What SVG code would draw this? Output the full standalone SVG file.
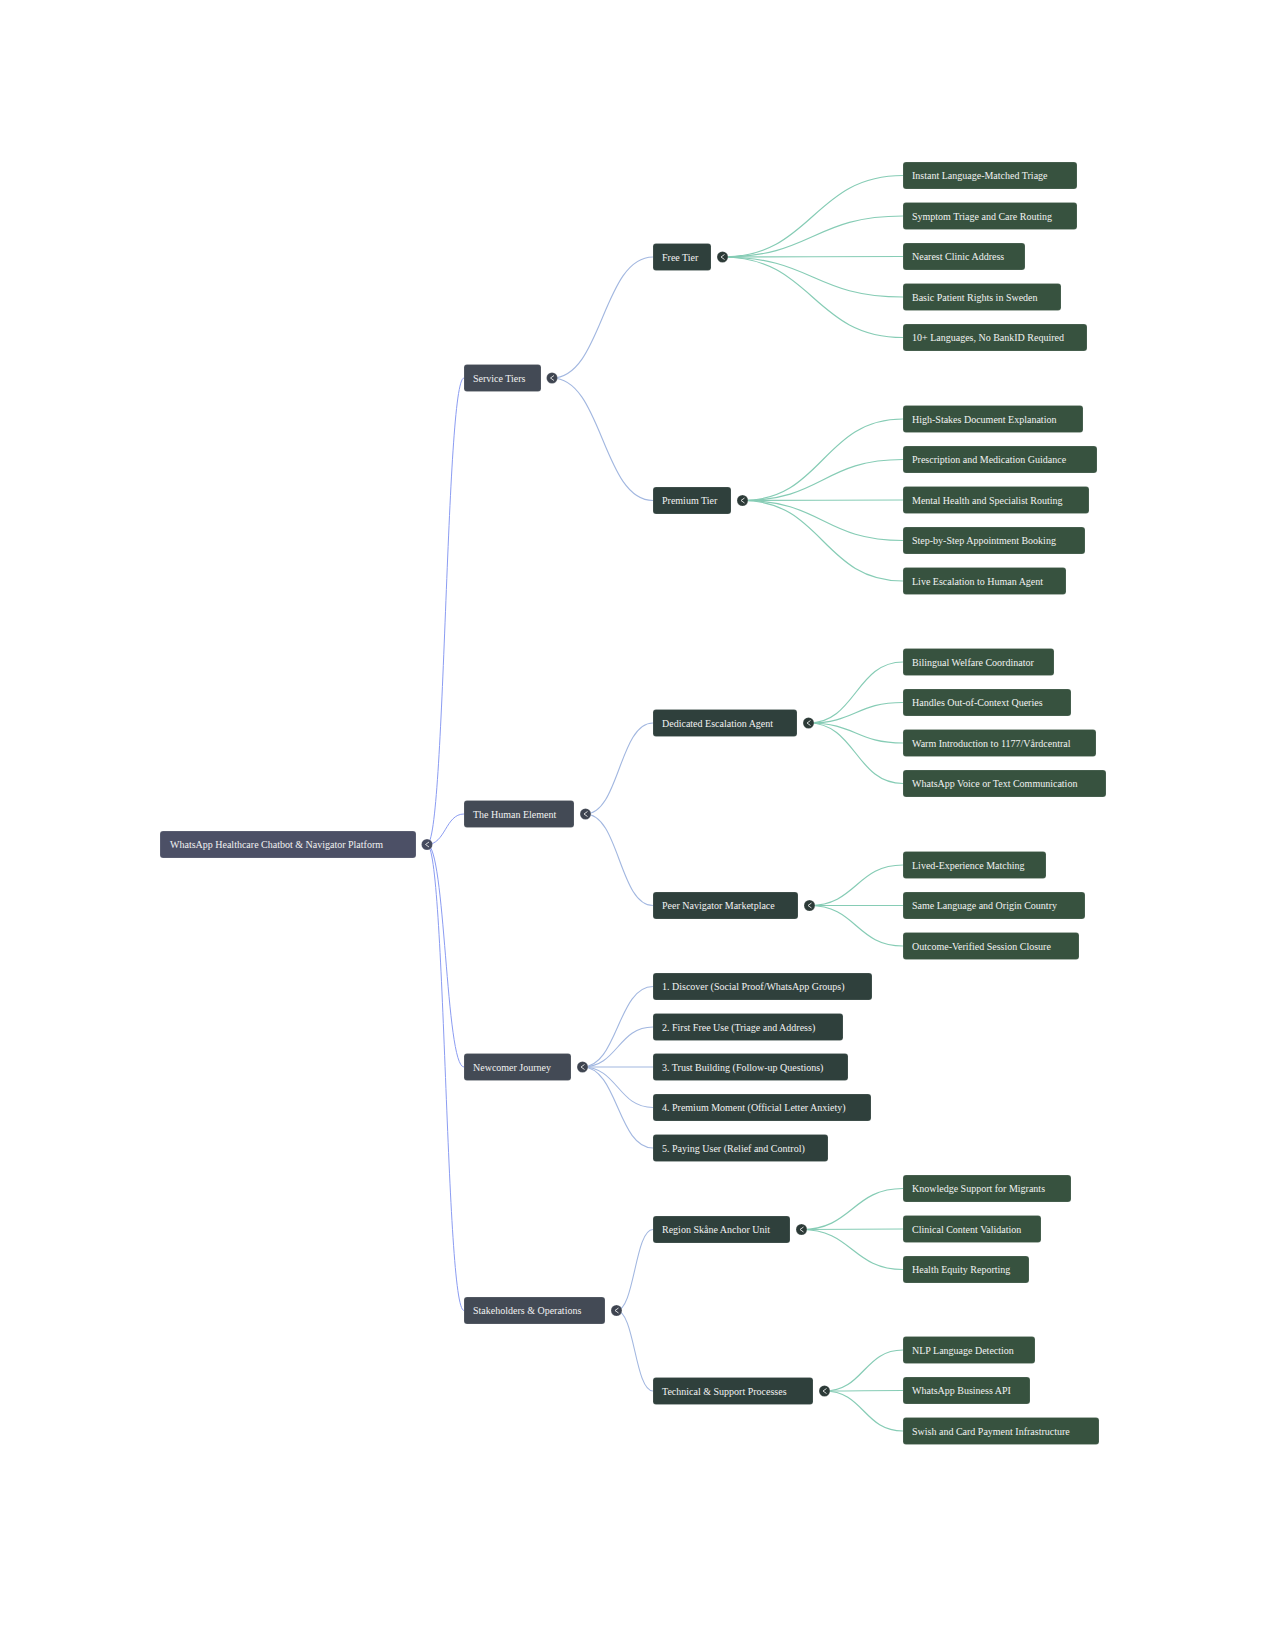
<svg xmlns="http://www.w3.org/2000/svg" width="1275" height="1650" viewBox="0 0 1275 1650">
<style>
text{font-family:"Liberation Serif","Times New Roman",serif;font-size:10px;fill:#f2f2f2}
.root rect{fill:#4c5066}
.l1 rect{fill:#434a55}
.l2 rect{fill:#2f403c}
.l3 rect{fill:#37523f}
rect{stroke:#ffffff;stroke-opacity:0.25;stroke-width:0.6}
.tg circle{stroke:#ffffff;stroke-opacity:0.4;stroke-width:0.5}
.tg polyline{fill:none;stroke:#e8e8e8;stroke-width:0.9}
.e0{fill:none;stroke:#8b9cf2;stroke-width:1}
.e1{fill:none;stroke:#a2b7e0;stroke-width:1.1}
.e2{fill:none;stroke:#86ccb5;stroke-width:1.2}
</style>
<rect x="0" y="0" width="1275" height="1650" fill="#ffffff" stroke="none"/>
<g id="connectors">
<path class="e0" d="M427,844.5 C445.5,844.5 445.5,378 464,378"/>
<path class="e0" d="M427,844.5 C445.5,844.5 445.5,814 464,814"/>
<path class="e0" d="M427,844.5 C445.5,844.5 445.5,1067 464,1067"/>
<path class="e0" d="M427,844.5 C445.5,844.5 445.5,1310.5 464,1310.5"/>
<path class="e1" d="M552,378 C602.5,378 602.5,257 653,257"/>
<path class="e1" d="M552,378 C602.5,378 602.5,500.5 653,500.5"/>
<path class="e1" d="M585.5,814 C619.25,814 619.25,723 653,723"/>
<path class="e1" d="M585.5,814 C619.25,814 619.25,905.5 653,905.5"/>
<path class="e1" d="M582.5,1067 C617.75,1067 617.75,986.5 653,986.5"/>
<path class="e1" d="M582.5,1067 C617.75,1067 617.75,1027 653,1027"/>
<path class="e1" d="M582.5,1067 C617.75,1067 617.75,1067 653,1067"/>
<path class="e1" d="M582.5,1067 C617.75,1067 617.75,1107.5 653,1107.5"/>
<path class="e1" d="M582.5,1067 C617.75,1067 617.75,1148 653,1148"/>
<path class="e1" d="M616.5,1310.5 C634.75,1310.5 634.75,1229.5 653,1229.5"/>
<path class="e1" d="M616.5,1310.5 C634.75,1310.5 634.75,1391 653,1391"/>
<path class="e2" d="M722.5,257 C812.75,257 812.75,175.5 903,175.5"/>
<path class="e2" d="M722.5,257 C812.75,257 812.75,216 903,216"/>
<path class="e2" d="M722.5,257 C812.75,257 812.75,256.5 903,256.5"/>
<path class="e2" d="M722.5,257 C812.75,257 812.75,297 903,297"/>
<path class="e2" d="M722.5,257 C812.75,257 812.75,337.5 903,337.5"/>
<path class="e2" d="M742.5,500.5 C822.75,500.5 822.75,419 903,419"/>
<path class="e2" d="M742.5,500.5 C822.75,500.5 822.75,459.5 903,459.5"/>
<path class="e2" d="M742.5,500.5 C822.75,500.5 822.75,500 903,500"/>
<path class="e2" d="M742.5,500.5 C822.75,500.5 822.75,540.5 903,540.5"/>
<path class="e2" d="M742.5,500.5 C822.75,500.5 822.75,581 903,581"/>
<path class="e2" d="M808.5,723 C855.75,723 855.75,662 903,662"/>
<path class="e2" d="M808.5,723 C855.75,723 855.75,702.5 903,702.5"/>
<path class="e2" d="M808.5,723 C855.75,723 855.75,743 903,743"/>
<path class="e2" d="M808.5,723 C855.75,723 855.75,783.5 903,783.5"/>
<path class="e2" d="M809.5,905.5 C856.25,905.5 856.25,865 903,865"/>
<path class="e2" d="M809.5,905.5 C856.25,905.5 856.25,905.5 903,905.5"/>
<path class="e2" d="M809.5,905.5 C856.25,905.5 856.25,946 903,946"/>
<path class="e2" d="M801.5,1229.5 C852.25,1229.5 852.25,1188.5 903,1188.5"/>
<path class="e2" d="M801.5,1229.5 C852.25,1229.5 852.25,1229 903,1229"/>
<path class="e2" d="M801.5,1229.5 C852.25,1229.5 852.25,1269.5 903,1269.5"/>
<path class="e2" d="M824.5,1391 C863.75,1391 863.75,1350 903,1350"/>
<path class="e2" d="M824.5,1391 C863.75,1391 863.75,1390.5 903,1390.5"/>
<path class="e2" d="M824.5,1391 C863.75,1391 863.75,1431 903,1431"/>
</g>
<g id="n-root" class="root"><rect x="160" y="831" width="256" height="27" rx="3"/><text x="170" y="848">WhatsApp Healthcare Chatbot &amp; Navigator Platform</text><g class="tg"><circle cx="427" cy="844.5" r="5.5" fill="#454a5e"/><polyline points="429,842 425.5,844.5 429,847"/></g></g>
<g id="n-service-tiers" class="l1"><rect x="464" y="364.5" width="77" height="27" rx="3"/><text x="473" y="381.5">Service Tiers</text><g class="tg"><circle cx="552" cy="378" r="5.5" fill="#3e4450"/><polyline points="554,375.5 550.5,378 554,380.5"/></g></g>
<g id="n-human" class="l1"><rect x="464" y="800.5" width="110" height="27" rx="3"/><text x="473" y="817.5">The Human Element</text><g class="tg"><circle cx="585.5" cy="814" r="5.5" fill="#3e4450"/><polyline points="587.5,811.5 584,814 587.5,816.5"/></g></g>
<g id="n-newcomer" class="l1"><rect x="464" y="1053.5" width="107" height="27" rx="3"/><text x="473" y="1070.5">Newcomer Journey</text><g class="tg"><circle cx="582.5" cy="1067" r="5.5" fill="#3e4450"/><polyline points="584.5,1064.5 581,1067 584.5,1069.5"/></g></g>
<g id="n-stake" class="l1"><rect x="464" y="1297" width="141" height="27" rx="3"/><text x="473" y="1314">Stakeholders &amp; Operations</text><g class="tg"><circle cx="616.5" cy="1310.5" r="5.5" fill="#3e4450"/><polyline points="618.5,1308 615,1310.5 618.5,1313"/></g></g>
<g id="n-free" class="l2"><rect x="653" y="243.5" width="58" height="27" rx="3"/><text x="662" y="260.5">Free Tier</text><g class="tg"><circle cx="722.5" cy="257" r="5.5" fill="#2c3a37"/><polyline points="724.5,254.5 721,257 724.5,259.5"/></g></g>
<g id="n-premium" class="l2"><rect x="653" y="487" width="78" height="27" rx="3"/><text x="662" y="504">Premium Tier</text><g class="tg"><circle cx="742.5" cy="500.5" r="5.5" fill="#2c3a37"/><polyline points="744.5,498 741,500.5 744.5,503"/></g></g>
<g id="n-dedicated" class="l2"><rect x="653" y="709.5" width="144" height="27" rx="3"/><text x="662" y="726.5">Dedicated Escalation Agent</text><g class="tg"><circle cx="808.5" cy="723" r="5.5" fill="#2c3a37"/><polyline points="810.5,720.5 807,723 810.5,725.5"/></g></g>
<g id="n-peer" class="l2"><rect x="653" y="892" width="145" height="27" rx="3"/><text x="662" y="909">Peer Navigator Marketplace</text><g class="tg"><circle cx="809.5" cy="905.5" r="5.5" fill="#2c3a37"/><polyline points="811.5,903 808,905.5 811.5,908"/></g></g>
<g id="n-j1" class="l2"><rect x="653" y="973" width="219" height="27" rx="3"/><text x="662" y="990">1. Discover (Social Proof/WhatsApp Groups)</text></g>
<g id="n-j2" class="l2"><rect x="653" y="1013.5" width="190" height="27" rx="3"/><text x="662" y="1030.5">2. First Free Use (Triage and Address)</text></g>
<g id="n-j3" class="l2"><rect x="653" y="1053.5" width="195" height="27" rx="3"/><text x="662" y="1070.5">3. Trust Building (Follow-up Questions)</text></g>
<g id="n-j4" class="l2"><rect x="653" y="1094" width="218" height="27" rx="3"/><text x="662" y="1111">4. Premium Moment (Official Letter Anxiety)</text></g>
<g id="n-j5" class="l2"><rect x="653" y="1134.5" width="175" height="27" rx="3"/><text x="662" y="1151.5">5. Paying User (Relief and Control)</text></g>
<g id="n-region" class="l2"><rect x="653" y="1216" width="137" height="27" rx="3"/><text x="662" y="1233">Region Skåne Anchor Unit</text><g class="tg"><circle cx="801.5" cy="1229.5" r="5.5" fill="#2c3a37"/><polyline points="803.5,1227 800,1229.5 803.5,1232"/></g></g>
<g id="n-tech" class="l2"><rect x="653" y="1377.5" width="160" height="27" rx="3"/><text x="662" y="1394.5">Technical &amp; Support Processes</text><g class="tg"><circle cx="824.5" cy="1391" r="5.5" fill="#2c3a37"/><polyline points="826.5,1388.5 823,1391 826.5,1393.5"/></g></g>
<g id="n-f1" class="l3"><rect x="903" y="162" width="174" height="27" rx="3"/><text x="912" y="179">Instant Language-Matched Triage</text></g>
<g id="n-f2" class="l3"><rect x="903" y="202.5" width="174" height="27" rx="3"/><text x="912" y="219.5">Symptom Triage and Care Routing</text></g>
<g id="n-f3" class="l3"><rect x="903" y="243" width="122" height="27" rx="3"/><text x="912" y="260">Nearest Clinic Address</text></g>
<g id="n-f4" class="l3"><rect x="903" y="283.5" width="158" height="27" rx="3"/><text x="912" y="300.5">Basic Patient Rights in Sweden</text></g>
<g id="n-f5" class="l3"><rect x="903" y="324" width="184" height="27" rx="3"/><text x="912" y="341">10+ Languages, No BankID Required</text></g>
<g id="n-p1" class="l3"><rect x="903" y="405.5" width="180" height="27" rx="3"/><text x="912" y="422.5">High-Stakes Document Explanation</text></g>
<g id="n-p2" class="l3"><rect x="903" y="446" width="194" height="27" rx="3"/><text x="912" y="463">Prescription and Medication Guidance</text></g>
<g id="n-p3" class="l3"><rect x="903" y="486.5" width="186" height="27" rx="3"/><text x="912" y="503.5">Mental Health and Specialist Routing</text></g>
<g id="n-p4" class="l3"><rect x="903" y="527" width="182" height="27" rx="3"/><text x="912" y="544">Step-by-Step Appointment Booking</text></g>
<g id="n-p5" class="l3"><rect x="903" y="567.5" width="163" height="27" rx="3"/><text x="912" y="584.5">Live Escalation to Human Agent</text></g>
<g id="n-d1" class="l3"><rect x="903" y="648.5" width="151" height="27" rx="3"/><text x="912" y="665.5">Bilingual Welfare Coordinator</text></g>
<g id="n-d2" class="l3"><rect x="903" y="689" width="168" height="27" rx="3"/><text x="912" y="706">Handles Out-of-Context Queries</text></g>
<g id="n-d3" class="l3"><rect x="903" y="729.5" width="193" height="27" rx="3"/><text x="912" y="746.5">Warm Introduction to 1177/Vårdcentral</text></g>
<g id="n-d4" class="l3"><rect x="903" y="770" width="203" height="27" rx="3"/><text x="912" y="787">WhatsApp Voice or Text Communication</text></g>
<g id="n-pe1" class="l3"><rect x="903" y="851.5" width="143" height="27" rx="3"/><text x="912" y="868.5">Lived-Experience Matching</text></g>
<g id="n-pe2" class="l3"><rect x="903" y="892" width="182" height="27" rx="3"/><text x="912" y="909">Same Language and Origin Country</text></g>
<g id="n-pe3" class="l3"><rect x="903" y="932.5" width="176" height="27" rx="3"/><text x="912" y="949.5">Outcome-Verified Session Closure</text></g>
<g id="n-r1" class="l3"><rect x="903" y="1175" width="168" height="27" rx="3"/><text x="912" y="1192">Knowledge Support for Migrants</text></g>
<g id="n-r2" class="l3"><rect x="903" y="1215.5" width="138" height="27" rx="3"/><text x="912" y="1232.5">Clinical Content Validation</text></g>
<g id="n-r3" class="l3"><rect x="903" y="1256" width="126" height="27" rx="3"/><text x="912" y="1273">Health Equity Reporting</text></g>
<g id="n-t1" class="l3"><rect x="903" y="1336.5" width="132" height="27" rx="3"/><text x="912" y="1353.5">NLP Language Detection</text></g>
<g id="n-t2" class="l3"><rect x="903" y="1377" width="127" height="27" rx="3"/><text x="912" y="1394">WhatsApp Business API</text></g>
<g id="n-t3" class="l3"><rect x="903" y="1417.5" width="196" height="27" rx="3"/><text x="912" y="1434.5">Swish and Card Payment Infrastructure</text></g>
</svg>
